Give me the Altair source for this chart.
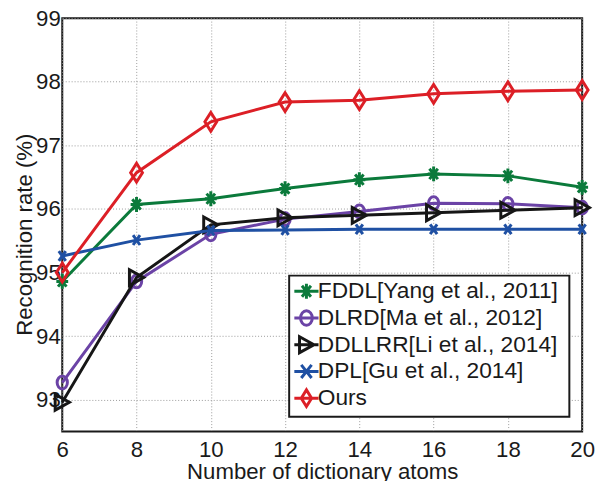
import altair as alt
import pandas as pd

# ---- data ----
atoms = [6, 8, 10, 12, 14, 16, 18, 20]
methods = [
    "FDDL[Yang et al., 2011]",
    "DLRD[Ma et al., 2012]",
    "DDLLRR[Li et al., 2014]",
    "DPL[Gu et al., 2014]",
    "Ours",
]
fddl = [94.86, 96.07, 96.16, 96.32, 96.46, 96.55, 96.52, 96.34]
dlrd = [93.27, 94.86, 95.60, 95.84, 95.96, 96.09, 96.08, 96.02]
ddllrr = [92.96, 94.92, 95.75, 95.86, 95.90, 95.94, 95.98, 96.02]
dpl = [95.26, 95.51, 95.66, 95.67, 95.68, 95.68, 95.68, 95.68]
ours = [95.00, 96.57, 97.37, 97.68, 97.71, 97.81, 97.85, 97.87]
series_values = [fddl, dlrd, ddllrr, dpl, ours]
y_ticks = [93, 94, 95, 96, 97, 98, 99]

# ---- styles ----
colors = ["#0b7a3b", "#6b43a6", "#161616", "#1f50a3", "#dc1f26"]
marker_paths = [
    "M0,-1L0,1M-0.8,0L0.8,0M-0.57,-0.7L0.57,0.7M-0.57,0.7L0.57,-0.7",
    "M0.8,0A0.8,1 0 1,1 -0.8,0A0.8,1 0 1,1 0.8,0Z",
    "M0.9,0L-0.9,-1L-0.9,1Z",
    "M-0.7,-1L0.7,1M-0.7,1L0.7,-1",
    "M0,-1L0.63,0L0,1L-0.63,0Z",
]
marker_sizes = [225, 169, 256, 100, 361]
legend_paths = [
    "M-1.75,0L1.75,0M0,-1.1L0,1.1M-0.9,0L0.9,0M-0.65,-0.8L0.65,0.8M-0.65,0.8L0.65,-0.8",
    "M-1.75,0L1.75,0M0.85,0A0.85,1.05 0 1,1 -0.85,0A0.85,1.05 0 1,1 0.85,0Z",
    "M-1.75,0L1.75,0M1.1,0L-1.0,-1.15L-1.0,1.15Z",
    "M-1.75,0L1.75,0M-0.75,-0.95L0.75,0.95M-0.75,0.95L0.75,-0.95",
    "M-1.75,0L1.75,0M0,-1.2L0.75,0L0,1.2L-0.75,0Z",
]

FONT = "Liberation Sans"
TXT = "#1a1a1a"

legend = alt.Legend(
    title=" ",
    titleOrient="right",
    titlePadding=6.7,
    titleFontSize=23,
    orient="none",
    legendX=230,
    legendY=261,
    padding=4.3,
    fillColor="white",
    strokeColor=TXT,
    labelFont=FONT,
    labelFontSize=23,
    labelColor=TXT,
    labelLimit=0,
    symbolSize=196,
    symbolStrokeWidth=3,
    symbolOffset=1.7,
    symbolFillColor="transparent",
    symbolOpacity=1,
    labelOffset=0,
    rowPadding=-0.9,
)

x_enc = alt.X(
    "atoms:Q",
    scale=alt.Scale(domain=[6, 20], nice=False, zero=False),
    axis=alt.Axis(
        values=atoms,
        title="Number of dictionary atoms",
        labelFlush=False,
        labelPadding=7,
        ticks=False,
        domain=False,
        titleX=263.5,
        titleY=48,
        titleBaseline="alphabetic",
        titleAlign="center",
    ),
)
y_enc = alt.Y(
    "rate:Q",
    scale=alt.Scale(domain=[92.5, 99], nice=False, zero=False),
    axis=alt.Axis(
        values=y_ticks,
        title="Recognition rate (%)",
        labelPadding=2,
        ticks=False,
        domain=False,
        titleAngle=270,
        titleX=-31,
        titleY=219,
        titleBaseline="alphabetic",
        titleAlign="center",
    ),
)
color_scale = alt.Scale(domain=methods, range=colors)
shape_scale = alt.Scale(domain=methods, range=legend_paths)

frames = []
layers = []
for i, name in enumerate(methods):
    df = pd.DataFrame({"atoms": atoms, "rate": series_values[i], "method": name})
    frames.append(df)
    base = alt.Chart(df)
    line = base.mark_line(strokeWidth=3).encode(
        x=x_enc,
        y=y_enc,
        color=alt.Color("method:N", scale=color_scale, legend=legend),
    )
    pts = base.mark_point(
        shape=marker_paths[i],
        size=marker_sizes[i],
        filled=False,
        strokeWidth=3,
        color=colors[i],
        opacity=1,
    ).encode(x=x_enc, y=y_enc)
    layers += [line, pts]

# legend layer: no rows survive the filter, legend is built from the scale domains
all_df = pd.concat(frames, ignore_index=True)
legend_layer = (
    alt.Chart(all_df)
    .transform_filter("datum.rate > 1000")
    .mark_point(filled=False, strokeWidth=3)
    .encode(
        x=x_enc,
        y=y_enc,
        color=alt.Color("method:N", scale=color_scale, legend=legend),
        shape=alt.Shape("method:N", scale=shape_scale, legend=legend),
    )
)

chart = (
    alt.layer(*layers, legend_layer)
    .properties(
        width=527,
        height=419,
        padding={"left": 55, "top": 7, "right": 13, "bottom": 56},
        autosize=alt.AutoSizeParams(type="none"),
        background="white",
    )
    .configure_view(stroke=TXT, strokeWidth=2)
    .configure_legend(strokeWidth=2)
    .configure_axis(
        labelFont=FONT,
        labelFontSize=22.5,
        labelColor=TXT,
        titleFont=FONT,
        titleFontSize=22.5,
        titleFontWeight="normal",
        titleColor=TXT,
        gridColor="#9a9a9a",
        gridDash=[1, 2],
        gridWidth=1,
        labelOverlap=False,
    )
)

chart.save("out.html", embed_options={"renderer": "svg", "actions": False})
